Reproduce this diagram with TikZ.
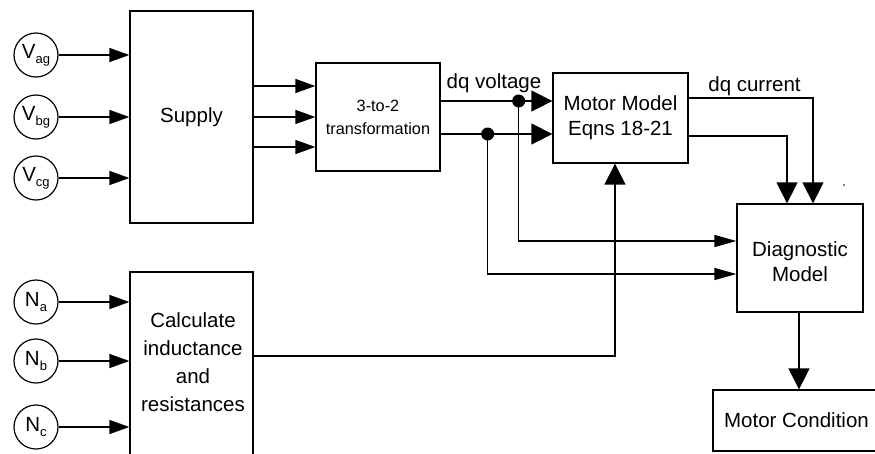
\documentclass[tikz,border=0pt]{standalone}
\usepackage{fontspec}
\setmainfont{Liberation Sans}
\usetikzlibrary{arrows.meta,calc}
\tikzset{
  box/.style={draw, line width=1.3pt, rectangle, inner sep=0pt, align=center, font=\fontsize{20.5}{25}\selectfont},
  circ/.style={draw, line width=1.2pt, circle, minimum size=44pt, inner sep=0pt, font=\fontsize{20.5}{25}\selectfont},
  lbl/.style={inner sep=0pt, font=\fontsize{20.5}{25}\selectfont},
  wire/.style={line width=1.4pt},
  arrA/.style={wire, -{Triangle[length=20pt,width=14pt]}},
  arrB/.style={wire, -{Triangle[length=21pt,width=21pt]}},
  arrC/.style={wire, -{Triangle[length=22pt,width=12pt]}},
}
\newcommand{\sbs}[1]{\raisebox{-5pt}{\fontsize{13}{13}\selectfont #1}}
\begin{document}
\begin{tikzpicture}[x=1pt,y=-1pt]
\useasboundingbox (0,0) rectangle (875,453);
\clip (0,0) rectangle (875,453);
% blocks
\node[box, minimum width=123pt, minimum height=212pt] (supply) at (191.5,117) {Supply};
\node[box, minimum width=123pt, minimum height=200pt] (calc) at (191.5,372) {};
\node[lbl, align=center, font=\fontsize{20.5}{28}\selectfont] (calctext) at (193,362) {Calculate\\inductance\\and\\resistances};
\node[box, minimum width=124pt, minimum height=108pt, font=\fontsize{16.3}{23}\selectfont] (t32) at (378,117) {3-to-2\\transformation};
\node[box, minimum width=135pt, minimum height=90pt] (mm) at (620.5,118) {Motor Model\\Eqns 18-21};
\node[box, minimum width=126pt, minimum height=108pt] (diag) at (800,258) {};
\node[lbl, align=center] (diagtext) at (800,262) {Diagnostic\\Model};
\node[box, minimum width=167pt, minimum height=61pt] (mcond) at (796.5,420.5) {Motor Condition};
% sources
\node[circ] (vag) at (36,55) {V\sbs{ag}};
\node[circ] (vbg) at (36,117) {V\sbs{bg}};
\node[circ] (vcg) at (36,178) {V\sbs{cg}};
\node[circ] (na) at (36,302) {N\sbs{a}};
\node[circ] (nb) at (36,361) {N\sbs{b}};
\node[circ] (nc) at (36,427) {N\sbs{c}};
% inputs
\foreach \s in {vag,vbg,vcg}{\draw[arrA] (\s.east) -- (\s.east -| supply.west);}
\foreach \s in {na,nb,nc}{\draw[arrA] (\s.east) -- (\s.east -| calc.west);}
% supply -> 3-to-2
\draw[arrA] ($(supply.east)+(0,-31)$) -- ($(t32.west)+(0,-31)$);
\draw[arrA] (supply.east) -- (t32.west);
\draw[arrA] ($(supply.east)+(0,30)$) -- ($(t32.west)+(0,30)$);
% 3-to-2 -> motor model
\draw[arrB] ($(t32.east)+(0,-16)$) -- ($(mm.west)+(0,-17)$);
\draw[arrB] ($(t32.east)+(0,17)$) -- ($(mm.west)+(0,16)$);
\coordinate (d1) at ($(t32.east)+(78,-16)$);
\coordinate (d2) at ($(t32.east)+(47,17)$);
\fill (d1) circle (6.5);
\fill (d2) circle (6.5);
\draw[arrC] (d1) |- ($(diag.west)+(0,-17)$);
\draw[arrC] (d2) |- ($(diag.west)+(0,16)$);
\node[lbl, anchor=base] (dqv) at (494,88) {dq voltage};
% motor model -> diagnostic
\draw[arrB] ($(mm.east)+(0,-20)$) -| ($(diag.north)+(13,0)$);
\draw[arrB] ($(mm.east)+(0,18)$) -| ($(diag.north)+(-13,0)$);
\node[lbl, anchor=base] (dqc) at (754.5,91) {dq current};
% calc -> motor model
\draw[arrB] ($(calc.east)+(0,-16)$) -| ($(mm.south)+(-5.5,0)$);
% diagnostic -> condition
\coordinate (ds) at ($(diag.south)+(-1,0)$);
\draw[arrB] (ds) -- (ds |- mcond.north);
% stray speck
\fill (844,185) circle (0.9);
\end{tikzpicture}
\end{document}
